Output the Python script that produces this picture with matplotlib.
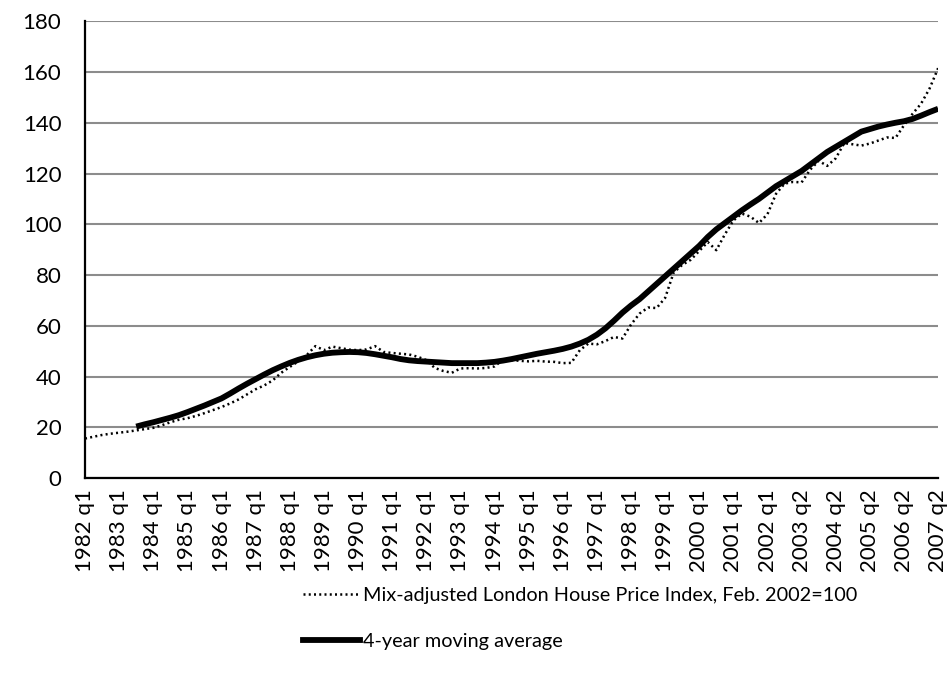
import matplotlib
matplotlib.use("Agg")
import matplotlib.pyplot as plt
from matplotlib.lines import Line2D

# quarterly categories (one quarter, 2002 q2, is absent from the source table)
quarters = [f"{y} q{q}" for y in range(1982, 2002) for q in (1, 2, 3, 4)]
quarters += ["2002 q1"]
quarters += [f"{y} q{q}" for y in range(2002, 2008) for q in (1, 2, 3, 4)
             if (y, q) > (2002, 2) and (y, q) <= (2007, 2)]

# mix-adjusted London house price index, Feb. 2002 = 100
price_index = [
    15.6, 16.3, 17.0, 17.5, 17.9, 18.3, 18.8, 19.3, 19.8, 20.8,
    22.0, 23.0, 23.6, 24.5, 25.6, 26.8, 28.0, 29.4, 31.0, 33.0,
    35.0, 36.5, 38.5, 41.5, 43.8, 46.0, 48.5, 52.0, 50.4, 51.8,
    51.2, 50.6, 50.4, 50.7, 52.0, 49.7, 49.3, 49.0, 48.7, 47.8,
    46.5, 43.4, 42.2, 41.5, 43.2, 43.3, 43.2, 43.4, 44.0, 46.7,
    46.5, 46.2, 46.0, 46.2, 45.9, 45.8, 45.3, 45.4, 50.4, 53.0,
    52.7, 54.0, 55.6, 55.0, 60.5, 64.8, 67.2, 67.0, 71.0, 81.0,
    84.0, 86.0, 89.5, 93.0, 89.8, 96.0, 101.5, 104.2, 103.0, 100.5,
    104.0, 112.0, 116.0, 116.7, 116.5, 121.5, 125.0, 123.0, 126.0, 132.0,
    131.5, 131.0, 131.8, 133.0, 134.2, 134.0, 139.0, 143.5, 147.5, 153.5,
    161.5,
]

# 4-year moving average (starts at the 7th quarter)
ma_start = 6
moving_avg = [
    20.3, 21.2, 22.0, 22.9, 23.8, 24.8, 26.0, 27.3, 28.6, 30.0,
    31.4, 33.3, 35.3, 37.2, 39.0, 40.8, 42.5, 44.0, 45.4, 46.6,
    47.6, 48.4, 49.0, 49.4, 49.6, 49.7, 49.6, 49.3, 48.8, 48.2,
    47.6, 46.9, 46.4, 46.1, 45.9, 45.7, 45.5, 45.3, 45.3, 45.3,
    45.3, 45.5, 45.8, 46.3, 46.9, 47.6, 48.3, 49.0, 49.6, 50.2,
    50.9, 51.8, 53.0, 54.5, 56.5, 59.0, 62.0, 65.2, 68.0, 70.5,
    73.5, 76.5, 79.5, 82.5, 85.5, 88.5, 91.5, 95.0, 98.0, 100.5,
    103.0, 105.5, 107.8, 110.0, 112.5, 115.0, 117.0, 119.0, 121.0, 123.5,
    126.0, 128.5, 130.5, 132.5, 134.5, 136.5, 137.5, 138.5, 139.3, 140.0,
    140.6, 141.5, 142.8, 144.2, 145.5,
]

y_ticks = list(range(0, 181, 20))

FONT = "Lato"
GRID_COLOR = "#8c8c8c"

fig = plt.figure(figsize=(9.5, 6.84), dpi=100)
ax = fig.add_axes([0.0895, 0.301, 0.898, 0.668])

x_all = list(range(len(price_index)))
x_ma = list(range(ma_start, ma_start + len(moving_avg)))

ax.plot(
    x_all,
    price_index,
    color="black",
    linewidth=1.8,
    linestyle=(0, (0.8, 1.3)),
    zorder=3,
)

ax.plot(
    x_ma,
    moving_avg,
    color="black",
    linewidth=4.2,
    solid_capstyle="butt",
    zorder=4,
)

ax.set_xlim(0, len(price_index) - 1)
ax.set_ylim(0, 180)

ax.set_yticks(y_ticks)
ax.set_yticklabels([str(v) for v in y_ticks], fontsize=16, family=FONT)

tick_pos = list(range(0, len(quarters), 4))
ax.set_xticks(tick_pos)
ax.set_xticklabels(
    [quarters[i] for i in tick_pos],
    rotation=90,
    fontsize=16,
    family=FONT,
)

ax.tick_params(axis="y", length=0, pad=17)
ax.tick_params(axis="x", length=0, pad=8)

ax.grid(axis="y", color=GRID_COLOR, linewidth=1.5)
ax.set_axisbelow(True)

for side in ("top", "right"):
    ax.spines[side].set_visible(False)
for side in ("left", "bottom"):
    ax.spines[side].set_linewidth(1.6)
    ax.spines[side].set_color("black")

handles = [
    Line2D([], [], color="black", linewidth=1.8, linestyle=(0, (0.8, 1.3))),
    Line2D([], [], color="black", linewidth=4.2),
]
labels = [
    "Mix-adjusted London House Price Index, Feb. 2002=100",
    "4-year moving average",
]

fig.legend(
    handles,
    labels,
    loc="upper left",
    bbox_to_anchor=(0.3, 0.168),
    frameon=False,
    handlelength=2.9,
    handletextpad=0.15,
    labelspacing=1.45,
    prop={"family": FONT, "size": 14.3},
)

fig.savefig("out.png", dpi=100)
plt.close(fig)
